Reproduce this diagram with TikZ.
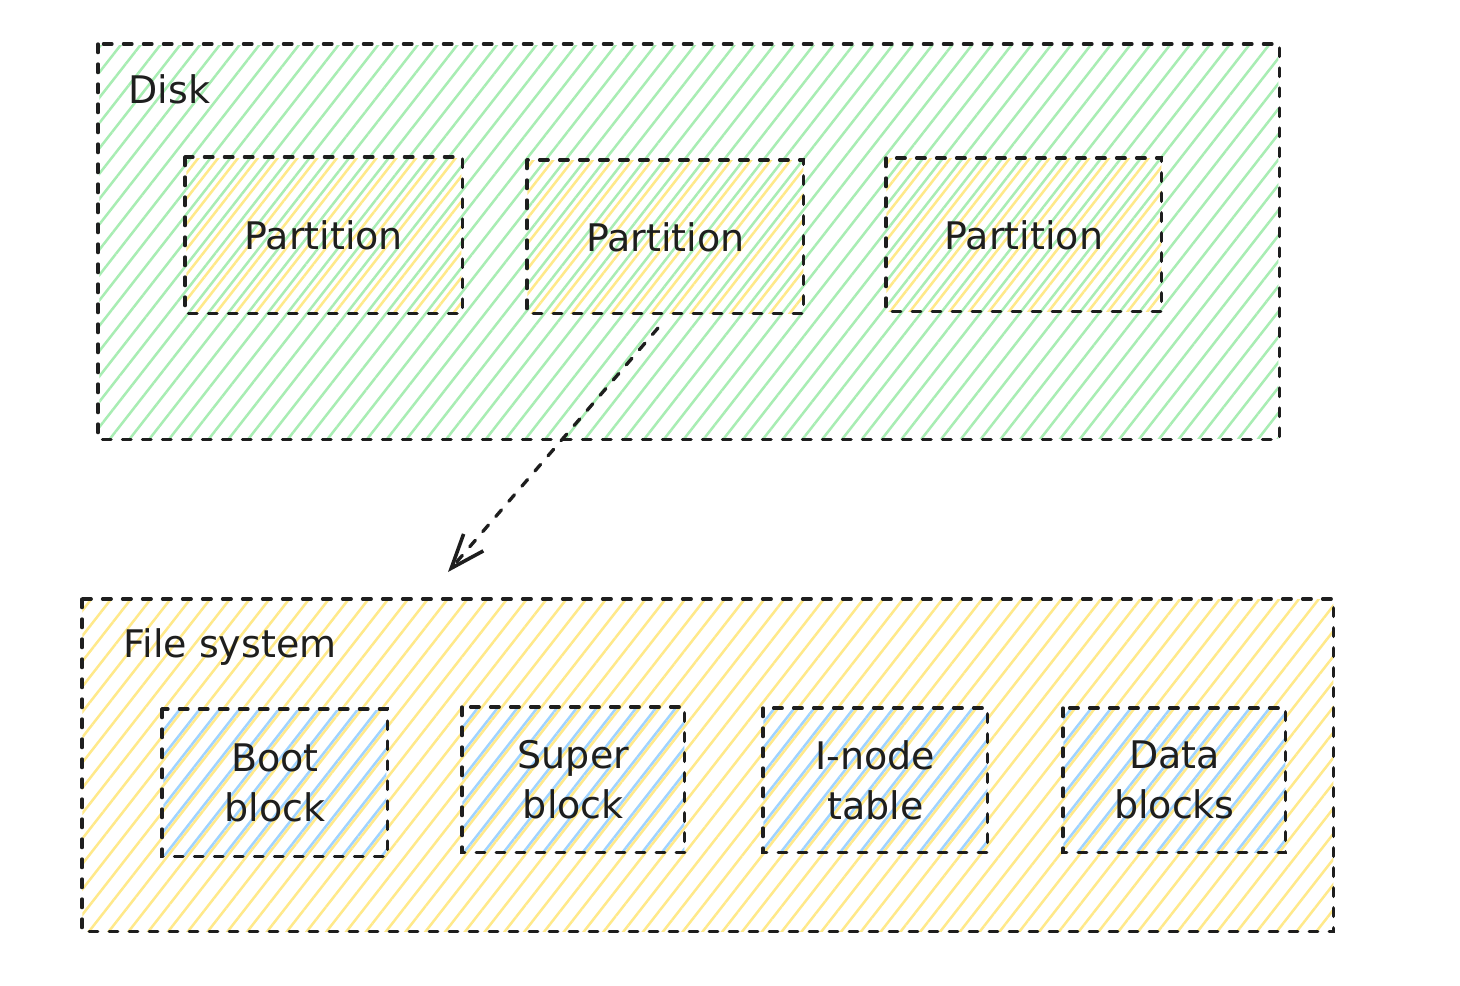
\documentclass[tikz,border=0pt]{standalone}
\usepackage{fontspec}
\setmainfont{DejaVu Sans}
\usetikzlibrary{patterns.meta,arrows.meta}
\definecolor{grn}{HTML}{A8EDB3}
\definecolor{ylw}{HTML}{FFE98A}
\definecolor{blu}{HTML}{9FD3FF}
\definecolor{ink}{HTML}{1E1E1E}
\begin{document}
\begin{tikzpicture}[x=0.5pt,y=-0.5pt,
  dashline/.style={draw=ink, line width=1.65pt, line cap=round, dash pattern=on 4.3pt off 5.7pt},
  box/.style={inner sep=0pt, anchor=north west, font=\fontsize{19}{25}\selectfont, text=ink, align=center},
  greenhatch/.style={pattern={Lines[angle=52,distance=7.8pt,line width=1.25pt]}, pattern color=grn},
  yellowhatch/.style={pattern={Lines[angle=52,distance=7.8pt,line width=1.25pt,xshift=3.8pt]}, pattern color=ylw},
  bluehatch/.style={pattern={Lines[angle=52,distance=7.8pt,line width=1.25pt,xshift=2.0pt]}, pattern color=blu},
  title/.style={anchor=west, inner sep=0pt, text=ink, font=\fontsize{19}{25}\selectfont}
]
\fill[white] (0,0) rectangle (1460,985);
\useasboundingbox (0,0) rectangle (1460,985);

% Disk
\node[box, greenhatch, minimum width=589.5pt, minimum height=196.5pt] (disk) at (98,44) {};
\draw[dashline] (disk.north west) rectangle (disk.south east);
\node[title] (disklabel) at (128,89) {Disk};
\node[box, yellowhatch, minimum width=137.5pt, minimum height=77pt] (p1) at (185,157) {Partition};
\node[box, yellowhatch, minimum width=138pt, minimum height=76.5pt] (p2) at (527,160) {Partition};
\node[box, yellowhatch, minimum width=137.5pt, minimum height=76.5pt] (p3) at (886,158) {Partition};
\foreach \n in {p1,p2,p3} \draw[dashline] (\n.north west) rectangle (\n.south east);

% File system
\node[box, yellowhatch, minimum width=625.5pt, minimum height=166pt] (fs) at (82,599) {};
\draw[dashline] (fs.north west) rectangle (fs.south east);
\node[title] (fslabel) at (123,647) {File system};
\node[box, bluehatch, minimum width=111.5pt, minimum height=72.5pt] (boot) at (162,709) {Boot\\block};
\node[box, bluehatch, minimum width=111pt, minimum height=72.5pt] (super) at (462,707) {Super\\block};
\node[box, bluehatch, minimum width=112pt, minimum height=72pt] (inode) at (763,708) {I-node\\table};
\node[box, bluehatch, minimum width=111pt, minimum height=72pt] (data) at (1063,708) {Data\\blocks};
\foreach \n in {boot,super,inode,data} \draw[dashline] (\n.north west) rectangle (\n.south east);

% Arrow
\coordinate (as) at (658,328);
\coordinate (ae) at (448,572);
\draw[dashline, -{Straight Barb[length=17pt,width=13pt,line width=1.8pt]}] (as) -- (ae);
\end{tikzpicture}
\end{document}
